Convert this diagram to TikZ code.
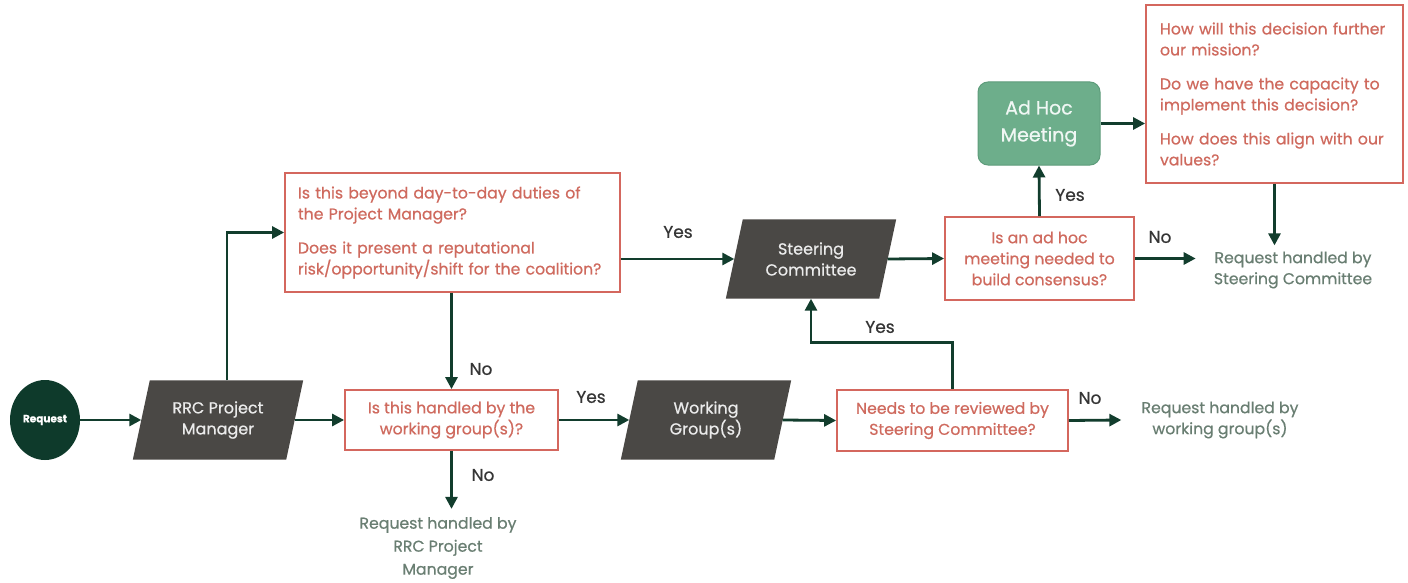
\documentclass[tikz,border=0pt]{standalone}
\usepackage{fontspec}
\setmainfont{Poppins}[RawFeature={embolden=0.6}]
\usetikzlibrary{arrows.meta,shapes.geometric,backgrounds,calc}
\definecolor{dgreen}{HTML}{123D2D}
\definecolor{reqfill}{HTML}{0E3A2B}
\definecolor{pgray}{HTML}{4A4845}
\definecolor{rborder}{HTML}{D4675E}
\definecolor{rtext}{HTML}{CF6A5E}
\definecolor{resc}{HTML}{697E72}
\definecolor{lblc}{HTML}{353535}
\definecolor{ahfill}{HTML}{6DAE8B}
\definecolor{ahdraw}{HTML}{5E9C7B}
\begin{document}
\begin{tikzpicture}[x=1pt,y=-1pt,
  arr/.style={draw=dgreen, line width=2.8pt, -{Triangle[length=12pt,width=12pt]}},
  qbox/.style={draw=rborder, line width=1.8pt, text=rtext, fill=white,
    font=\fontsize{15.7}{21}\selectfont, align=center, inner sep=0pt},
  para/.style={minimum width=153pt, minimum height=79pt, text=white!92!black,
    font=\fontsize{16}{21}\selectfont, align=center, inner sep=0pt},
  lbl/.style={text=lblc, font=\fontsize{17}{20}\selectfont, inner sep=0pt},
  res/.style={text=resc, align=center, font=\fontsize{15.7}{21}\selectfont}]
\useasboundingbox (0,0) rectangle (1408,583);

% start
\node[ellipse, fill=reqfill, minimum width=70pt, minimum height=80pt, inner sep=0pt,
  text=white, font=\fontsize{10.5}{12}\selectfont\bfseries] (req) at (45,420) {Request};

% parallelograms
\node[para] (rrc) at (218,420) {RRC Project\\Manager};
\node[para] (wg) at (706,420) {Working\\Group(s)};
\node[para] (sc) at (811,259) {Steering\\Committee};

% question boxes
\node[qbox, text width=309pt, inner xsep=13pt, minimum height=119pt, align=left] (b1) at (452.5,232.5)
  {Is this beyond day-to-day duties of\\the Project Manager?\\[13pt]Does it present a reputational\\risk/opportunity/shift for the coalition?};
\node[qbox, minimum width=213pt, minimum height=60pt] (b2) at (451.5,420)
  {Is this handled by the\\working group(s)?};
\node[qbox, minimum width=231pt, minimum height=61pt] (b3) at (952.5,420.5)
  {Needs to be reviewed by\\Steering Committee?};
\node[qbox, minimum width=189pt, minimum height=83pt] (b4) at (1039.5,258.5)
  {Is an ad hoc\\meeting needed to\\build consensus?};
\node[qbox, text width=229pt, inner xsep=14pt, minimum height=178pt, align=left] (b5) at (1274.5,94)
  {How will this decision further\\our mission?\\[13pt]Do we have the capacity to\\implement this decision?\\[13pt]How does this align with our\\values?};

% ad hoc
\node[rounded corners=10pt, fill=ahfill, draw=ahdraw, line width=1pt, minimum width=122pt,
  minimum height=83pt, text=white!90!ahfill, font=\fontsize{19}{27}\selectfont, align=center] (ah) at (1039,123.5)
  {Ad Hoc\\Meeting};

% results
\node[res, inner ysep=8pt, font=\fontsize{15.7}{23}\selectfont] (r1) at (438,548) {Request handled by\\RRC Project\\Manager};
\node[res, inner xsep=20pt] (r2) at (1220,420) {Request handled by\\working group(s)};
\node[res, inner xsep=18pt, inner ysep=6pt] (r3) at (1293,270) {Request handled by\\Steering Committee};

\begin{scope}[on background layer]
  \fill[white] (0,0) rectangle (1408,583);
  \foreach \n in {rrc,wg,sc}
    \fill[pgray] ([xshift=8.5pt]\n.north west) -- ([xshift=8.5pt]\n.north east)
      -- ([xshift=-8.5pt]\n.south east) -- ([xshift=-8.5pt]\n.south west) -- cycle;
\end{scope}

% connectors
\draw[arr] (req.east) -- (rrc.west);
\draw[arr] ([xshift=9pt]rrc.north) |- (b1.west);
\draw[arr] (rrc.east) -- (b2.west);
\draw[arr] (b1.south -| b2.north) -- (b2.north);
\draw[arr] (b2.south) -- (b2.south |- r1.north);
\draw[arr] (b2.east) -- (wg.west);
\draw[arr] (wg.east) -- (b3.west);
\draw[arr] (b3.east) -- (r2.west);
\draw[arr] (b3.north) -- ++(0,-47) -| (sc.south);
\draw[arr] (b1.east |- sc.west) -- (sc.west);
\draw[arr] (sc.east) -- (b4.west);
\draw[arr] (b4.east) -- (b4.east -| r3.west);
\draw[arr] (b4.north) -- (ah.south);
\draw[arr] (ah.east) -- (ah.east -| b5.west);
\draw[arr] (b5.south) -- (b5.south |- r3.north);

% labels
\node[lbl] (l1) at (481,369) {No};
\node[lbl] (l2) at (483,475) {No};
\node[lbl] (l3) at (591,397) {Yes};
\node[lbl] (l4) at (678,232) {Yes};
\node[lbl] (l5) at (880,327) {Yes};
\node[lbl] (l6) at (1090,398) {No};
\node[lbl] (l7) at (1160,237) {No};
\node[lbl] (l8) at (1070,195) {Yes};
\end{tikzpicture}
\end{document}
